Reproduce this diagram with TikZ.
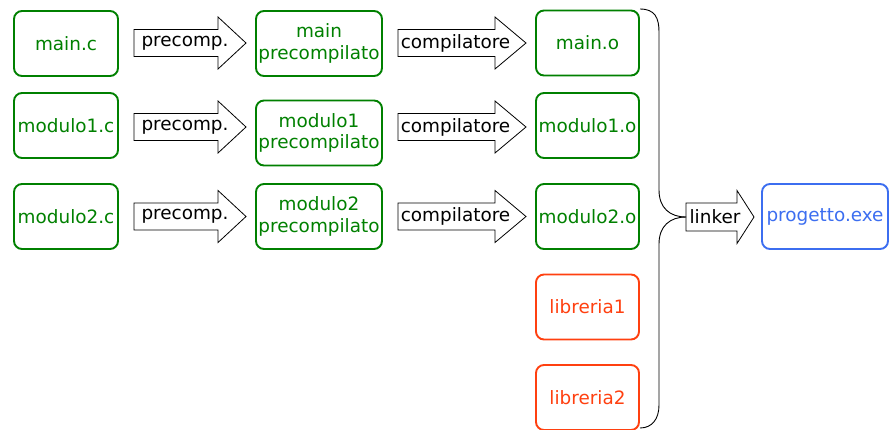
\documentclass[tikz,border=0pt]{standalone}
\usepackage{fontspec}
\setmainfont{DejaVu Sans}
\definecolor{boxgreen}{RGB}{0,128,0}
\definecolor{libred}{RGB}{255,64,16}
\definecolor{exeblue}{RGB}{60,110,240}
\tikzset{
  srcbox/.style={draw=boxgreen, text=boxgreen, line width=1.9pt, rounded corners=8pt,
    minimum height=65pt, align=center, inner sep=1pt, font=\fontsize{18.4}{21.5}\selectfont},
  libbox/.style={srcbox, draw=libred, text=libred},
  exebox/.style={srcbox, draw=exeblue, text=exeblue},
  arrowlabel/.style={inner sep=0pt, font=\fontsize{18.4}{21.5}\selectfont, text=black},
  fatarrow/.style={draw=black, line width=0.8pt, fill=white},
  bracepath/.style={draw=black, line width=0.9pt}
}
% #1 x left, #2 x head start, #3 x tip, #4 y center, #5 shaft half, #6 head half
\newcommand{\fatarr}[6]{%
  \path[fatarrow] (#1,#4-#5) -- (#2,#4-#5) -- (#2,#4-#6) -- (#3,#4) -- (#2,#4+#6) -- (#2,#4+#5) -- (#1,#4+#5) -- cycle;}
\begin{document}
\begin{tikzpicture}[x=1pt,y=-1pt]
\useasboundingbox (0,0) rectangle (890,429);
% column 1
\node[srcbox, minimum width=104pt] (mc) at (66,43.5) {main.c};
\node[srcbox, minimum width=104pt] (m1c) at (66,125.5) {modulo1.c};
\node[srcbox, minimum width=104pt] (m2c) at (66,216.5) {modulo2.c};
% column 2
\node[srcbox, minimum width=126pt] (mp) at (319,43.5) {main\\precompilato};
\node[srcbox, minimum width=126pt] (m1p) at (319,133) {modulo1\\precompilato};
\node[srcbox, minimum width=126pt] (m2p) at (319,216.5) {modulo2\\precompilato};
% column 3
\node[srcbox, minimum width=103pt] (mo) at (587.5,43) {main.o};
\node[srcbox, minimum width=103pt] (m1o) at (587.5,125.5) {modulo1.o};
\node[srcbox, minimum width=103pt] (m2o) at (587.5,216.5) {modulo2.o};
\node[libbox, minimum width=103pt] (l1) at (587.5,307) {libreria1};
\node[libbox, minimum width=103pt] (l2) at (587.5,397.5) {libreria2};
% output
\node[exebox, minimum width=126pt] (exe) at (825,216.5) {progetto.exe};
% precomp arrows
\fatarr{134}{218}{246}{43}{13.5}{26}
\node[arrowlabel] (pa1) at (185,43) {precomp.};
\fatarr{134}{218}{246}{127}{13.5}{26}
\node[arrowlabel] (pa2) at (185,127) {precomp.};
\fatarr{134}{218}{246}{216.5}{13.5}{26}
\node[arrowlabel] (pa3) at (185,216.5) {precomp.};
% compilatore arrows
\fatarr{398}{495}{526}{43}{13.5}{26}
\node[arrowlabel] (ca1) at (455.5,43) {compilatore};
\fatarr{398}{495}{526}{127}{13.5}{26}
\node[arrowlabel] (ca2) at (455.5,127) {compilatore};
\fatarr{398}{495}{526}{216.5}{13.5}{26}
\node[arrowlabel] (ca3) at (455.5,216.5) {compilatore};
% linker arrow
\fatarr{686}{737}{754}{217}{14}{26.5}
\node[arrowlabel] (la) at (715,217) {linker};
% brace
\coordinate (btop) at (640,9);
\coordinate (btip) at (686,217);
\coordinate (bbot) at (640,428);
\path[bracepath] (btop) .. controls (655,9) and (659,18) .. (659,32)
  -- (659,190) .. controls (659,208) and (670,217) .. (btip);
\path[bracepath] (btip) .. controls (670,217) and (659,226) .. (659,244)
  -- (659,405) .. controls (659,419) and (652,428) .. (bbot);
\end{tikzpicture}
\end{document}
